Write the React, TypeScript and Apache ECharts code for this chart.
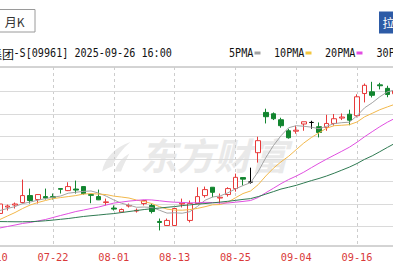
import React, { useEffect, useRef } from "react";
import * as echarts from "echarts";

// Trading days (MM-DD)
const dates = [
  "07-10", "07-11", "07-14", "07-15", "07-16", "07-17", "07-18", "07-21", "07-22", "07-23",
  "07-24", "07-25", "07-28", "07-29", "07-30", "07-31", "08-01", "08-04", "08-05", "08-06",
  "08-07", "08-08", "08-11", "08-12", "08-13", "08-14", "08-15", "08-18", "08-19", "08-20",
  "08-21", "08-22", "08-25", "08-26", "08-27", "08-28", "08-29", "09-01", "09-02", "09-03",
  "09-04", "09-05", "09-08", "09-09", "09-10", "09-11", "09-12", "09-15", "09-16", "09-17",
  "09-18", "09-19", "09-22", "09-23",
];

// [open, close, low, high]
const candles = [
  [473.0, 471.0, 469.0, 475.0], [471.6, 480.0, 470.7, 482.2], [477.3, 478.2, 474.2, 479.5],
  [479.1, 480.0, 476.0, 481.3], [481.3, 487.5, 480.4, 501.7], [487.5, 483.1, 480.4, 493.7],
  [484.0, 488.4, 480.4, 488.8], [486.6, 485.3, 484.0, 493.7], [486.6, 485.7, 484.0, 489.3],
  [493.7, 493.1, 489.3, 493.7], [491.9, 495.5, 491.5, 499.3], [493.3, 492.4, 489.3, 500.8],
  [495.5, 489.3, 488.4, 495.9], [488.4, 487.7, 480.7, 488.4], [486.6, 483.7, 483.5, 492.8],
  [481.3, 481.9, 478.7, 484.8], [476.4, 475.5, 474.2, 478.7], [472.9, 475.1, 472.0, 476.0],
  [478.2, 478.7, 476.9, 480.4], [473.8, 474.4, 472.4, 476.0], [480.4, 483.1, 478.7, 483.1],
  [478.7, 473.3, 471.6, 480.4], [464.5, 463.6, 456.5, 467.1], [460.9, 465.4, 460.5, 467.1],
  [460.9, 476.0, 460.5, 476.4], [480.0, 480.7, 476.9, 484.8], [465.4, 480.4, 463.6, 483.1],
  [480.4, 486.6, 480.0, 494.9], [487.5, 492.8, 485.7, 495.5], [494.9, 490.4, 486.0, 495.0],
  [485.3, 486.0, 480.4, 489.3], [488.4, 493.7, 486.6, 494.9], [493.7, 503.7, 491.0, 507.0],
  [503.5, 502.1, 496.4, 503.7], [499.5, 499.5, 498.1, 512.3], [525.6, 536.3, 516.8, 539.8],
  [561.4, 557.6, 551.6, 564.7], [560.2, 555.8, 554.6, 561.4], [554.9, 549.6, 547.8, 556.7],
  [545.1, 538.9, 538.1, 546.9], [544.7, 545.6, 542.5, 549.6], [551.1, 553.1, 545.1, 553.1],
  [552.5, 552.5, 546.9, 554.0], [548.7, 543.6, 539.2, 552.5], [548.1, 551.6, 545.1, 559.3],
  [551.6, 555.8, 549.6, 560.0], [556.4, 557.3, 554.6, 560.5], [559.8, 554.5, 550.0, 563.8],
  [558.5, 575.3, 557.0, 577.5], [578.2, 585.5, 570.3, 587.1], [579.7, 576.6, 574.7, 588.6],
  [585.9, 585.1, 581.9, 587.7], [582.8, 577.3, 574.9, 585.1], [578.0, 580.5, 574.0, 583.0],
];

const ma5 = [
  473.3, 474.2, 476.0, 477.7, 480.4, 481.7, 483.4, 484.8, 486.0, 487.1,
  489.6, 490.4, 491.2, 491.6, 489.7, 487.0, 483.6, 480.7, 479.0, 477.1,
  477.3, 476.9, 474.5, 471.9, 472.2, 471.8, 473.2, 477.8, 483.3, 486.2,
  487.2, 489.9, 493.4, 496.4, 499.0, 508.8, 521.2, 531.9, 540.7, 547.8,
  549.6, 549.1, 548.3, 546.9, 549.1, 551.4, 552.3, 552.7, 558.5, 565.5,
  570.0, 575.3, 579.7, 581.5,
];

const ma10 = [
  463.5, 466.2, 469.3, 472.4, 476.0, 479.1, 481.3, 483.1, 484.8, 485.7,
  486.6, 487.5, 488.8, 489.3, 488.8, 488.4, 487.0, 486.2, 485.3, 483.5,
  482.2, 480.4, 477.7, 475.5, 474.6, 474.5, 475.0, 476.1, 477.6, 479.3,
  479.5, 481.6, 485.5, 489.3, 491.6, 497.2, 504.9, 511.8, 517.5, 522.4,
  528.3, 534.2, 539.1, 543.3, 547.4, 549.6, 550.0, 550.5, 552.9, 557.5,
  560.6, 563.8, 566.3, 568.7,
];

const ma20 = [
  457.3, 458.7, 460.0, 461.3, 462.7, 463.6, 464.9, 466.2, 468.0, 469.8,
  471.5, 473.3, 474.6, 476.0, 477.3, 479.1, 480.8, 481.7, 482.6, 483.2,
  483.8, 483.6, 482.9, 482.1, 481.6, 481.4, 481.0, 481.1, 481.5, 481.3,
  480.8, 480.9, 481.6, 482.3, 483.1, 485.8, 490.0, 494.0, 498.1, 501.7,
  504.8, 508.3, 512.3, 516.2, 519.9, 523.4, 526.9, 530.5, 534.9, 539.8,
  544.3, 548.7, 552.7, 556.2,
];

const ma30 = [
  464.4, 464.4, 464.3, 464.2, 464.2, 464.3, 464.6, 465.1, 465.7, 466.4,
  467.1, 468.0, 468.9, 469.6, 470.2, 470.9, 471.5, 472.4, 473.3, 474.2,
  475.1, 475.8, 476.4, 477.1, 477.7, 478.6, 479.2, 479.9, 480.4, 481.0,
  481.7, 482.4, 483.2, 484.1, 484.8, 486.6, 488.8, 491.0, 493.3, 494.9,
  496.6, 498.7, 500.8, 502.7, 504.9, 507.4, 510.1, 512.8, 516.0, 519.7,
  522.8, 526.5, 530.3, 534.0,
];

const gridLevels = [460, 480, 500, 520, 540, 560, 580];
const priceMin = 442.67;
const priceMax = 601.78;

const maNames = ["5PMA", "10PMA", "20PMA", "30PMA"];
const maData = [ma5, ma10, ma20, ma30];
const maColors = ["#a3a3a3", "#f2b84b", "#e04fe0", "#2f7a52"];
const legendColors = ["#a0a0a0", "#f3c63f", "#e24ce2", "#2f7a52"];

const titleName = "携程集团";
const titleRest = "-S[09961] 2025-09-26 16:00";

const UP = "#e83a3a";
const DOWN = "#12852f";

const LOGO_D =
  "M2 29 C4 17 14 6 29 1 C22 7 15 15 12 24 C9 25 5 27 2 29 Z M14 29 C16 22 21 16 28 12 C25 18 22 24 20 29 Z";
let logoRegistered = false;
function ensureLogo() {
  if (logoRegistered) return;
  echarts.graphic.registerShape("emLogo", echarts.graphic.extendPath(LOGO_D, {}));
  logoRegistered = true;
}

export default function App() {
  const ref = useRef<HTMLDivElement>(null);

  useEffect(() => {
    document.body.style.margin = "0";
    ensureLogo();
    const chart = echarts.init(ref.current as HTMLDivElement, undefined, { renderer: "svg" });

    const monoFont = "'DejaVu Sans Mono', monospace";
    const cjkFont = "'Noto Sans CJK SC', sans-serif";

    const legendX = [229, 274, 325, 376.5];
    const legendDashX = [254.5, 305.5, 356.5, 407.5];

    const graphics: any[] = [
      // watermark
      {
        type: "emLogo",
        x: 100,
        y: 141,
        scaleX: 1.05,
        scaleY: 1.05,
        z: 0,
        silent: true,
        style: { fill: "#e9e9e9" },
      },
      {
        type: "text",
        x: 140,
        y: 154,
        z: 0,
        silent: true,
        style: {
          text: "东方财富",
          fontSize: 37,
          fontWeight: "bold",
          fontStyle: "italic",
          fontFamily: cjkFont,
          fill: "#e9e9e9",
          verticalAlign: "middle",
          align: "left",
        },
      },
      // 月K button
      {
        type: "rect",
        shape: { x: -5, y: 9.5, width: 40, height: 22.5 },
        style: { fill: "#fff", stroke: "#9a9a9a", lineWidth: 1 },
      },
      {
        type: "text",
        x: 14.5,
        y: 21,
        style: {
          text: "月K",
          fontSize: 12,
          fontFamily: cjkFont,
          fill: "#333",
          align: "center",
          verticalAlign: "middle",
        },
      },
      // blue button
      {
        type: "rect",
        shape: { x: 379, y: 11.5, width: 30, height: 22 },
        style: { fill: "#2d5ba6" },
      },
      {
        type: "text",
        x: 382.5,
        y: 22.5,
        style: {
          text: "拉长",
          fontSize: 12,
          fontFamily: cjkFont,
          fill: "#fff",
          align: "left",
          verticalAlign: "middle",
        },
      },
      // title
      {
        type: "text",
        x: 14,
        y: 53,
        style: {
          text: titleName,
          fontSize: 12,
          fontFamily: cjkFont,
          fill: "#111",
          align: "right",
          verticalAlign: "middle",
        },
      },
      {
        type: "text",
        x: 13.5,
        y: 53,
        scaleX: 0.88,
        style: {
          text: titleRest,
          fontSize: 11.5,
          fontFamily: monoFont,
          fill: "#111",
          align: "left",
          verticalAlign: "middle",
        },
      },
    ];

    maNames.forEach((name, i) => {
      graphics.push({
        type: "text",
        x: legendX[i],
        y: 53,
        scaleX: 0.88,
        style: {
          text: name,
          fontSize: 11.5,
          fontFamily: monoFont,
          fill: "#111",
          align: "left",
          verticalAlign: "middle",
        },
      });
      graphics.push({
        type: "rect",
        shape: { x: legendDashX[i], y: 51.5, width: 6, height: 3 },
        style: { fill: legendColors[i] },
      });
    });

    const option: any = {
      animation: false,
      backgroundColor: "#fff",
      grid: {
        left: -7.8,
        right: -2,
        top: 67,
        bottom: 21,
        containLabel: false,
        outerBoundsMode: "none",
        show: true,
        borderColor: "#a8a8a8",
        borderWidth: 1,
        backgroundColor: "transparent",
      },
      xAxis: {
        type: "category",
        data: dates,
        boundaryGap: false,
        axisLine: { show: false },
        axisTick: { show: false, interval: 7 },
        axisLabel: {
          interval: 7,
          color: "#d93a3a",
          fontSize: 10.3,
          fontFamily: monoFont,
          margin: 6,
          showMinLabel: true,
          hideOverlap: false,
        },
        splitLine: {
          show: true,
          interval: 7,
          lineStyle: { color: "#cdcdcd", type: [3, 3], width: 1 },
        },
      },
      yAxis: {
        type: "value",
        min: priceMin,
        max: priceMax,
        axisLine: { show: false },
        axisTick: { show: false },
        axisLabel: { show: false },
        splitLine: { show: false },
      },
      graphic: { elements: graphics },
      series: [
        {
          type: "candlestick",
          name: "K",
          data: candles,
          barWidth: 5,
          silent: true,
          z: 3,
          itemStyle: {
            color: "#fff",
            color0: DOWN,
            borderColor: UP,
            borderColor0: DOWN,
            borderColorDoji: "#000",
            borderWidth: 1,
          },
          markLine: {
            silent: true,
            z: 1,
            symbol: ["none", "none"],
            label: { show: false },
            animation: false,
            lineStyle: { color: "#dadada", type: "solid", width: 1 },
            emphasis: { disabled: true },
            data: gridLevels.map((v) => ({ yAxis: v })),
          },
        },
        ...maNames.map((name, i) => ({
          type: "line",
          name,
          data: maData[i],
          symbol: "none",
          showSymbol: false,
          silent: true,
          z: 4,
          lineStyle: { width: 1, color: maColors[i] },
          itemStyle: { color: maColors[i] },
        })),
      ],
    };

    chart.setOption(option);
    return () => {
      chart.dispose();
    };
  }, []);

  return <div ref={ref} style={{ width: 393, height: 267 }} />;
}
